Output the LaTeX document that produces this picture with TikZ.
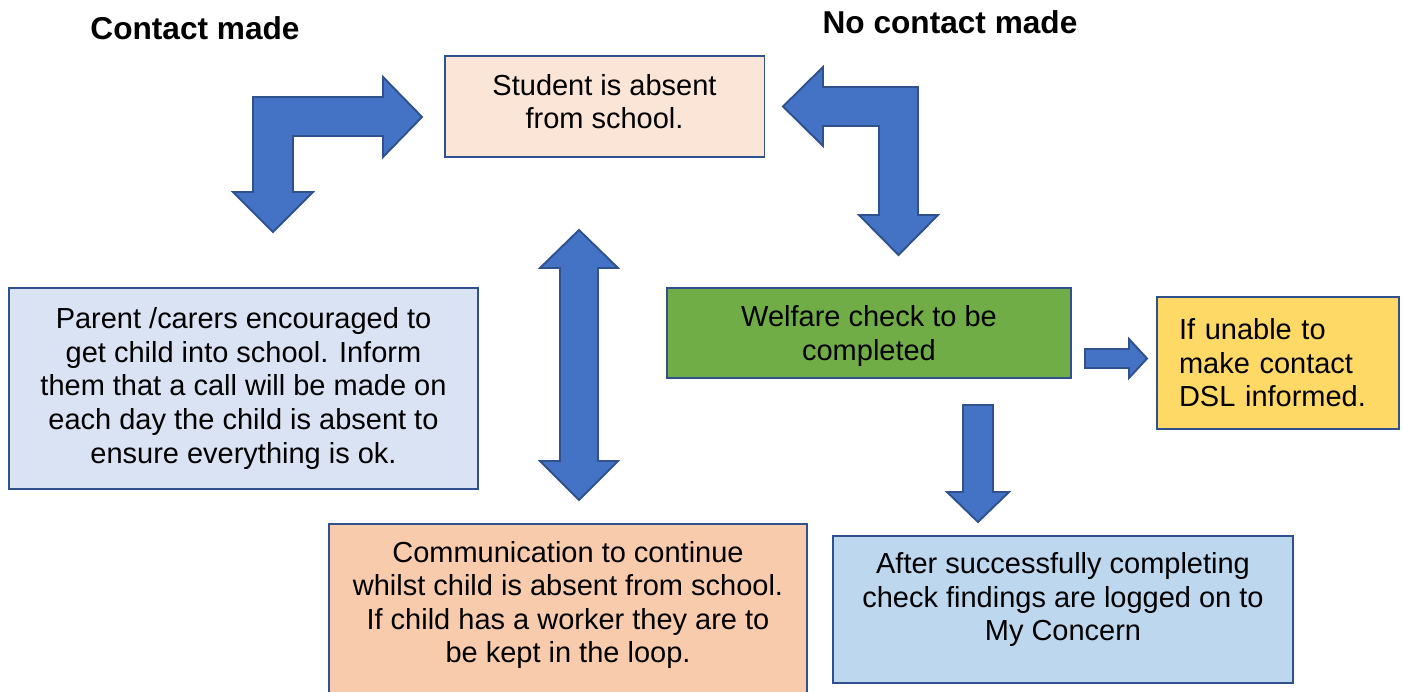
\documentclass[tikz,border=0pt]{standalone}
\usepackage{fontspec}
\setmainfont{Liberation Sans}
\usepackage{tikz}
\definecolor{boxline}{HTML}{2F528F}
\definecolor{arrowfill}{HTML}{4472C4}
\definecolor{peach}{HTML}{FBE5D6}
\definecolor{paleblue}{HTML}{DAE3F3}
\definecolor{leafgreen}{HTML}{70AD47}
\definecolor{gold}{HTML}{FFD966}
\definecolor{apricot}{HTML}{F8CBAD}
\definecolor{skyblue}{HTML}{BDD7EE}
\tikzstyle{infobox} = [rectangle, draw=boxline, line width=1.1pt, inner sep=0pt,
align=center, font=\fontsize{16.5}{19.1}\selectfont]
\tikzstyle{heading} = [font=\bfseries\fontsize{18}{21}\selectfont]
\tikzstyle{blockarrow} = [draw=boxline, fill=arrowfill, line width=1.1pt,
line join=miter]

\begin{document}
\begin{tikzpicture}[x=0.02cm, y=-0.02cm]
\useasboundingbox (0,0) rectangle (1403,692);
\clip (0,0) rectangle (1403,692);

\node(contact)[heading] at (195,28) {Contact made};
\node(nocontact)[heading] at (950,22) {No contact made};

\node(absent)[infobox, fill=peach, minimum width=6.4cm, minimum height=2.02cm,
text depth=0.2cm] at (604.5,106.5) {Student is absent\\from school.};
\node(parent)[infobox, fill=paleblue, minimum width=9.4cm, minimum height=4.02cm]
at (243.5,388.5) {Parent /carers encouraged to\\get child into school. Inform\\
them that a call will be made on\\each day the child is absent to\\ensure everything is ok.};
\node(welfare)[infobox, fill=leafgreen, minimum width=8.08cm, minimum height=1.8cm,
text depth=0pt] at (869,333) {Welfare check to be\\completed};
\node(dsl)[infobox, fill=gold, minimum width=4.84cm, minimum height=2.64cm,
align=left, text width=3.96cm] at (1278,363) {If unable to\\make contact\\DSL informed.};
\node(comm)[infobox, fill=apricot, minimum width=9.56cm, minimum height=3.76cm,
text depth=0.64cm] at (568,618) {Communication to continue\\whilst child is absent from school.\\
If child has a worker they are to\\be kept in the loop.};
\node(logged)[infobox, fill=skyblue, minimum width=9.2cm, minimum height=2.94cm,
text depth=0.52cm] at (1063,609.5) {After successfully completing\\check findings are logged on to\\My Concern};

% contact made
\draw[blockarrow] (273,232) -- (313,192) -- (293,192) -- (293,136) -- (383,136)
-- (383,157) -- (422,117) -- (383,77) -- (383,97) -- (253,97) -- (253,192)
-- (233,192) -- cycle;
% no contact made
\draw[blockarrow] (783,106.5) -- (823,67) -- (823,87) -- (918,87) -- (918,215)
-- (938,215) -- (898.5,255) -- (859,215) -- (879,215) -- (879,126) -- (823,126)
-- (823,146) -- cycle;
% keep in touch
\draw[blockarrow] (579,230) -- (618,268) -- (598,268) -- (598,461) -- (618,461)
-- (579,500) -- (540,461) -- (560,461) -- (560,268) -- (540,268) -- cycle;
\draw[blockarrow] (1085,349) -- (1129,349) -- (1129,339) -- (1147,358.5)
-- (1129,378) -- (1129,368) -- (1085,368) -- cycle;
\draw[blockarrow] (963,405) -- (993,405) -- (993,492) -- (1009,492) -- (978,522)
-- (947,492) -- (963,492) -- cycle;

\end{tikzpicture}
\end{document}
